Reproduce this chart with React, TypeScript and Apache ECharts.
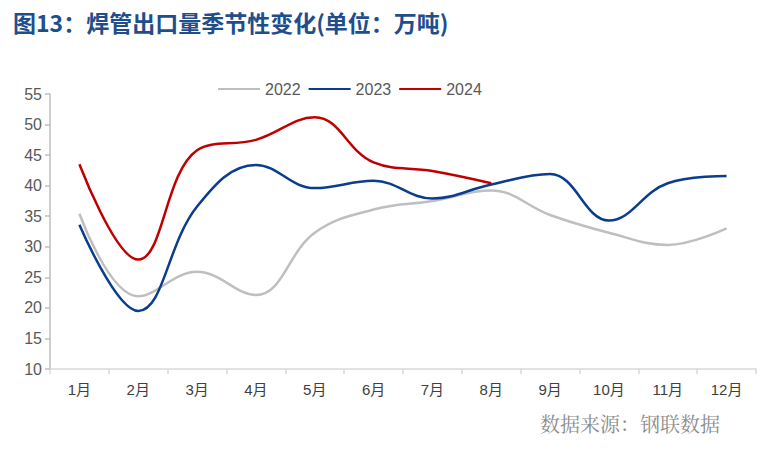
import React, { useEffect, useRef } from "react";
import * as echarts from "echarts";

const months = ["1月", "2月", "3月", "4月", "5月", "6月", "7月", "8月", "9月", "10月", "11月", "12月"];
const s2022 = [35.4, 21.9, 25.9, 22.1, 32.3, 36.1, 37.5, 39.2, 35.2, 32.3, 30.3, 33.0];
const s2023 = [33.6, 19.5, 36.6, 43.4, 39.6, 40.8, 37.9, 40.2, 41.9, 34.3, 40.4, 41.6];
const s2024 = [43.5, 27.9, 45.8, 47.5, 51.2, 43.8, 42.4, 40.4];
const seriesNames = ["2022", "2023", "2024"];
const colors = ["#bfbfbf", "#0a3d8c", "#c00000"];

export default function App() {
  const ref = useRef<HTMLDivElement>(null);
  useEffect(() => {
    if (!ref.current) return;
    const chart = echarts.init(ref.current, null, { renderer: "svg" });
    const data = [s2022, s2023, s2024];
    chart.setOption({
      animation: false,
      backgroundColor: "#ffffff",
      title: {
        text: "图13：焊管出口量季节性变化(单位：万吨)",
        left: 8,
        top: 5,
        textStyle: {
          color: "#1f4e8c",
          fontSize: 23,
          fontWeight: "bold",
          fontFamily: "'Noto Sans CJK SC', sans-serif",
        },
      },
      legend: {
        data: seriesNames,
        top: 76,
        left: 213,
        itemWidth: 42,
        itemHeight: 10,
        itemGap: 8,
        icon: "path://M0,4 L42,4 L42,6 L0,6 Z",
        textStyle: { color: "#595959", fontSize: 16, fontFamily: "'Liberation Sans', Arial, sans-serif" },
      },
      grid: { left: 50, right: 26, top: 94, bottom: 82, containLabel: false },
      xAxis: {
        type: "category",
        data: months,
        boundaryGap: true,
        axisLine: { lineStyle: { color: "#d9d9d9", width: 1.5 } },
        axisTick: { show: true, length: 5, lineStyle: { color: "#d9d9d9", width: 1.5 } },
        axisLabel: {
          color: "#404040",
          fontSize: 15,
          margin: 13,
          fontFamily: "'Liberation Sans', 'Noto Sans CJK SC', sans-serif",
        },
      },
      yAxis: {
        type: "value",
        min: 10,
        max: 55,
        interval: 5,
        splitLine: { show: false },
        axisLine: { show: true, lineStyle: { color: "#bfbfbf", width: 1.5 } },
        axisTick: { show: true, length: 5, lineStyle: { color: "#bfbfbf", width: 1.5 } },
        axisLabel: {
          color: "#595959",
          fontSize: 16,
          margin: 8,
          fontFamily: "'Liberation Sans', Arial, sans-serif",
        },
      },
      series: seriesNames.map((name, i) => ({
        name,
        type: "line",
        data: data[i],
        smooth: 0.4,
        symbol: "none",
        lineStyle: { color: colors[i], width: 2.5 },
        itemStyle: { color: colors[i] },
        z: i + 2,
      })),
      graphic: [
        {
          type: "text",
          right: 62,
          top: 413,
          style: {
            text: "数据来源：钢联数据",
            fill: "#8c8c8c",
            fontSize: 20,
            fontFamily: "'Noto Serif CJK SC', 'Noto Sans CJK SC', serif",
          },
        },
      ],
    });
    return () => chart.dispose();
  }, []);
  return <div ref={ref} style={{ width: 782, height: 451, position: "absolute", left: 0, top: 0 }} />;
}
